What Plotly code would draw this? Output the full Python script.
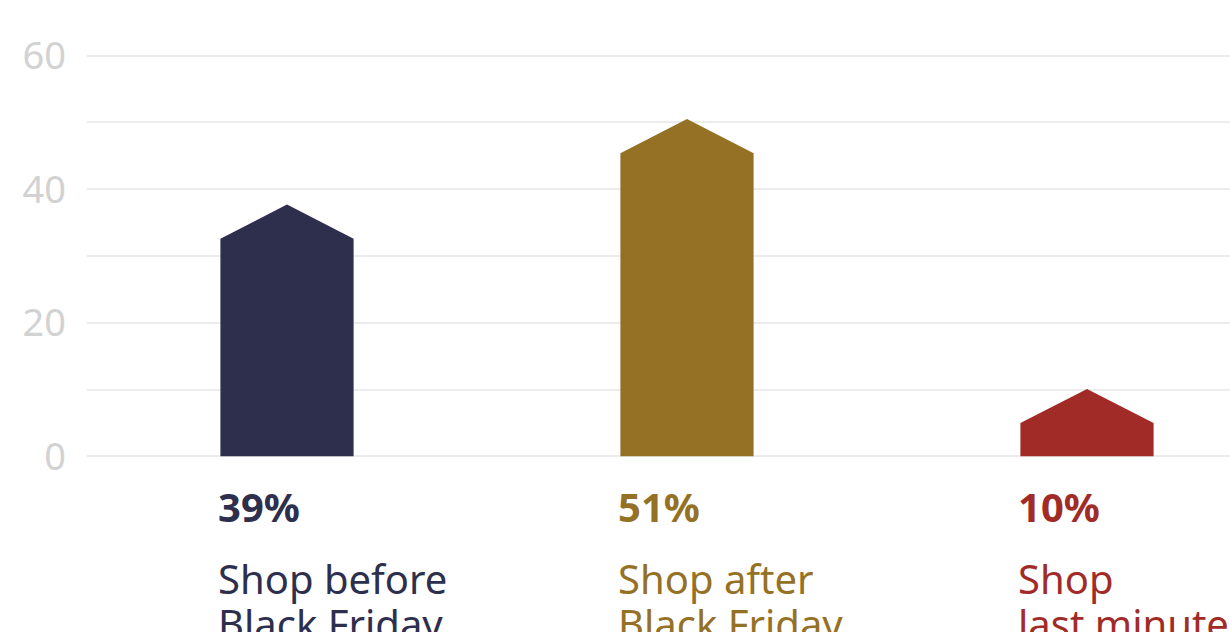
import plotly.graph_objects as go

categories = ["Shop before<br>Black Friday", "Shop after<br>Black Friday", "Shop<br>last minute"]
percent_labels = ["39%", "51%", "10%"]
bar_peaks = [37.7, 50.5, 10.1]      # height of arrow tip
head_height = 5.1                   # arrow head height (axis units)
colors = ["#2d2f4d", "#957126", "#a12b27"]
y_ticks = [0, 20, 40, 60]

bar_w = 0.333
font_family = "Noto Sans, Open Sans, sans-serif"
y_range = [-1, 61]


def to_paper(v):
    return (v - y_range[0]) / (y_range[1] - y_range[0])


fig = go.Figure()
for i, (peak, col) in enumerate(zip(bar_peaks, colors)):
    l, r = i - bar_w / 2, i + bar_w / 2
    sh = peak - head_height
    fig.add_trace(go.Scatter(
        x=[l, l, i, r, r, l],
        y=[0, sh, peak, sh, 0, 0],
        fill="toself", fillcolor=col, mode="lines",
        line=dict(width=0, color=col), hoverinfo="skip", showlegend=False,
    ))
    fig.add_annotation(x=l, y=to_paper(-7.5), xref="x", yref="paper", text="<b>%s</b>" % percent_labels[i],
                       showarrow=False, xanchor="left", yanchor="middle", xshift=-4,
                       font=dict(family=font_family, size=40, color=col))
    for j, line in enumerate(categories[i].split("<br>")):
        fig.add_annotation(x=l, y=to_paper(-18.3 - 6.75 * j), xref="x", yref="paper", text=line,
                           showarrow=False, xanchor="left", yanchor="middle", align="left", xshift=-4,
                           font=dict(family=font_family, size=40, color=col))

fig.update_layout(
    width=1230, height=632,
    margin=dict(l=87, r=0, t=49, b=169),
    paper_bgcolor="white", plot_bgcolor="white",
    font=dict(family=font_family),
    xaxis=dict(range=[-0.5, 2.3575], visible=False),
    yaxis=dict(range=y_range, tickvals=y_ticks,
               showgrid=True, gridcolor="#ececec", gridwidth=1.5,
               zeroline=False, ticklabelstandoff=20,
               tickfont=dict(size=38, color="#d2d2d2", family=font_family),
               minor=dict(tickvals=[10, 30, 50], showgrid=True, gridcolor="#ececec", gridwidth=1.5)),
)

fig.write_html("out.html")
